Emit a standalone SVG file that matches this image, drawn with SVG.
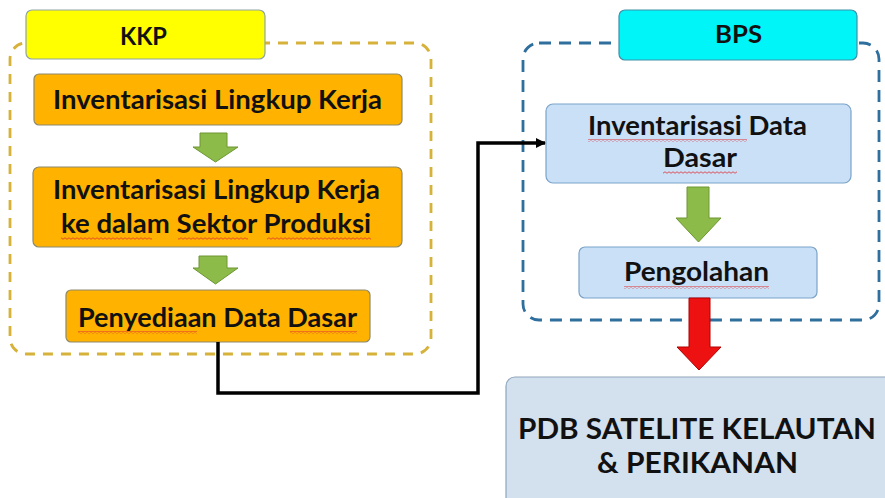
<svg xmlns="http://www.w3.org/2000/svg" width="885" height="498" viewBox="0 0 885 498">
<defs>
<style>
.t{font-family:Lato,"Open Sans","Liberation Sans",sans-serif;font-weight:bold;fill:#111;}
.org{fill:#FFB300;stroke:#8C8A6E;stroke-width:1.2;}
.blu{fill:#C9E0F7;stroke:#7BA3C9;stroke-width:1.2;}
.grn{fill:#8DBB49;stroke:#6C9632;stroke-width:1;}
.wave{fill:url(#wv);}
</style>
<pattern id="wv" width="4" height="3" patternUnits="userSpaceOnUse">
<path d="M0,1.5 Q1,0 2,1.5 T4,1.5" fill="none" stroke="#E03030" stroke-width="0.8"/>
</pattern>
<marker id="ah" markerWidth="10" markerHeight="10" refX="9" refY="5" orient="auto" markerUnits="userSpaceOnUse">
<path d="M0,0 L10,5 L0,10 Z" fill="#000"/>
</marker>
</defs>
<rect width="885" height="498" fill="#fff"/>

<g id="kkp-container">
<rect x="10" y="43" width="421" height="311" rx="16" fill="none" stroke="#D6B23A" stroke-width="2.8" stroke-dasharray="10,8"/>
</g>
<g id="kkp-label">
<rect x="26" y="10" width="239" height="49" rx="6" fill="#FFFF00" stroke="#8FA3A6" stroke-width="1.2"/>
<text class="t" x="143.5" y="45" font-size="25" text-anchor="middle" textLength="47" lengthAdjust="spacingAndGlyphs">KKP</text>
</g>
<g id="box1">
<rect class="org" x="34" y="74" width="368" height="51" rx="5"/>
<text class="t" x="53" y="109" font-size="26" textLength="329" lengthAdjust="spacingAndGlyphs">Inventarisasi Lingkup Kerja</text>
</g>
<g id="box2">
<rect class="org" x="33" y="167" width="369" height="80" rx="6"/>
<text class="t" x="53" y="199" font-size="26" textLength="327" lengthAdjust="spacingAndGlyphs">Inventarisasi Lingkup Kerja</text>
<text class="t" x="61" y="233" font-size="26" textLength="310" lengthAdjust="spacingAndGlyphs">ke dalam Sektor Produksi</text>
<rect class="wave" x="61" y="237" width="91" height="3"/>
<rect class="wave" x="178" y="237" width="70" height="3"/>
<rect class="wave" x="267" y="237" width="104" height="3"/>
</g>
<g id="box3">
<rect class="org" x="66" y="290" width="304" height="52" rx="5"/>
<text class="t" x="78" y="327" font-size="26" textLength="279" lengthAdjust="spacingAndGlyphs">Penyediaan Data Dasar</text>
<rect class="wave" x="78" y="331" width="119" height="3"/>
<rect class="wave" x="290" y="331" width="67" height="3"/>
</g>

<g id="bps-container">
<rect x="523" y="43" width="356" height="277" rx="16" fill="none" stroke="#2E6F9E" stroke-width="2.8" stroke-dasharray="12,8"/>
</g>
<g id="bps-label">
<rect x="619" y="10" width="238" height="50" rx="6" fill="#00F5F8" stroke="#3F8FA8" stroke-width="1.2"/>
<text class="t" x="738.5" y="43" font-size="25" text-anchor="middle" textLength="47" lengthAdjust="spacingAndGlyphs">BPS</text>
</g>
<g id="bps-box1">
<rect class="blu" x="546" y="104" width="305" height="79" rx="7"/>
<text class="t" x="588" y="135" font-size="26" textLength="219" lengthAdjust="spacingAndGlyphs">Inventarisasi Data</text>
<text class="t" x="663" y="167" font-size="26" textLength="74" lengthAdjust="spacingAndGlyphs">Dasar</text>
<rect class="wave" x="588" y="139" width="159" height="3"/>
<rect class="wave" x="663" y="171" width="74" height="3"/>
</g>
<g id="bps-box2">
<rect class="blu" x="579" y="247" width="238" height="51" rx="6"/>
<text class="t" x="624" y="281" font-size="26" textLength="145" lengthAdjust="spacingAndGlyphs">Pengolahan</text>
<rect class="wave" x="624" y="286" width="145" height="3"/>
</g>
<g id="pdb">
<rect x="506" y="377" width="395" height="140" rx="9" fill="#D3E0EE" stroke="#8FA6BC" stroke-width="1.2"/>
<text class="t" x="518" y="439" font-size="28" textLength="358" lengthAdjust="spacingAndGlyphs">PDB SATELITE KELAUTAN</text>
<text class="t" x="597" y="473" font-size="28" textLength="201" lengthAdjust="spacingAndGlyphs">&amp; PERIKANAN</text>
</g>

<g id="connectors">
<path class="grn" d="M200,133 H227 V147 H238 L215.5,162 L193,147 H200 Z"/>
<path class="grn" d="M199,256 H227 V268 H238 L215.5,284 L193,268 H199 Z"/>
<path class="grn" d="M687,187 H709 V218 H721 L698.5,242 L676,218 H687 Z"/>
<path d="M689,298 H710 V347 H721 L699,370 L677,347 H689 Z" fill="#EE1111" stroke="#B00000" stroke-width="1"/>
<path d="M218,342 V393 H478 V143 H545" fill="none" stroke="#000" stroke-width="3.5" marker-end="url(#ah)"/>
</g>
</svg>
